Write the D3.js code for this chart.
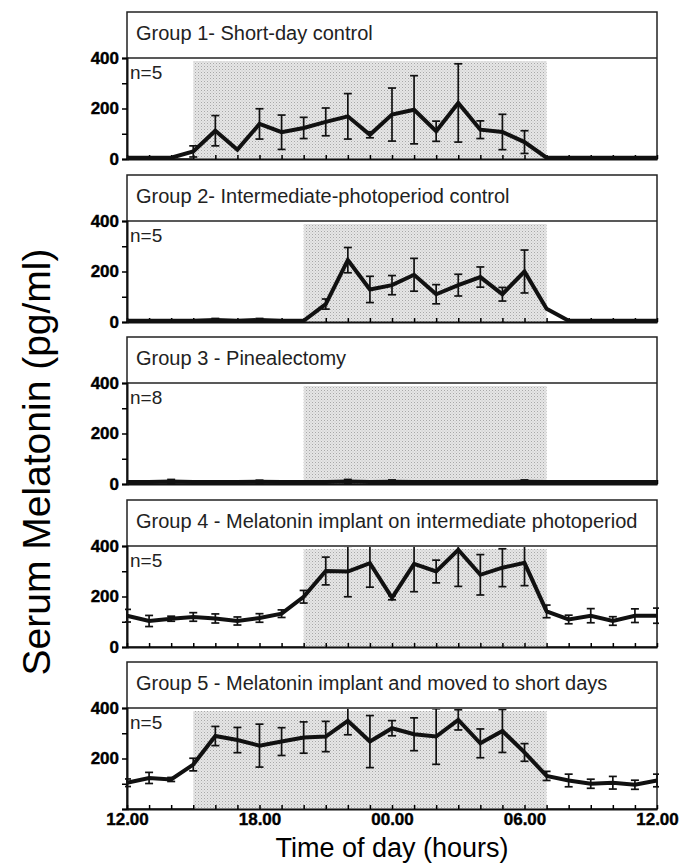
<!DOCTYPE html>
<html>
<head>
<meta charset="utf-8">
<script src="https://cdn.jsdelivr.net/npm/d3@7"></script>
<style>
  body { margin: 0; background: #fff; }
  svg { display: block; }
  text { font-family: "Liberation Sans", Arial, Helvetica, sans-serif; }
</style>
</head>
<body>
<svg id="chart"></svg>
<script>
// hours after 12.00 noon, one sample each hour
const hours = [0, 1, 2, 3, 4, 5, 6, 7, 8, 9, 10, 11, 12, 13, 14, 15, 16, 17, 18, 19, 20, 21, 22, 23, 24];
const hourTicks = [0, 6, 12, 18, 24];
const hourLabels = ["12.00", "18.00", "00.00", "06.00", "12.00"];

const groupTitles = [
    "Group 1- Short-day control",
    "Group 2- Intermediate-photoperiod control",
    "Group 3 - Pinealectomy",
    "Group 4 - Melatonin implant on intermediate photoperiod",
    "Group 5 - Melatonin implant and moved to short days"
];
const groupN = ["n=5", "n=5", "n=8", "n=5", "n=5"];
// dark phase, hours after noon
const darkStart = [3, 8, 8, 8, 3];
const darkEnd = [19, 19, 19, 19, 19];

const mean1 = [5, 5, 5, 30, 112, 37, 139, 106, 123, 147, 169, 96, 176, 195, 110, 222, 116, 107, 67, 5, 5, 5, 5, 5, 5];
const sem1 = [0, 0, 0, 22, 60, 0, 60, 68, 42, 55, 90, 12, 105, 135, 40, 155, 35, 70, 45, 0, 0, 0, 0, 0, 0];
const mean2 = [5, 5, 5, 5, 8, 5, 8, 5, 5, 71, 245, 129, 146, 187, 110, 146, 178, 110, 200, 52, 5, 5, 5, 5, 5];
const sem2 = [0, 0, 0, 0, 6, 0, 6, 0, 0, 20, 50, 52, 38, 65, 38, 43, 40, 27, 85, 0, 0, 0, 0, 0, 0];
const mean3 = [8, 8, 10, 8, 8, 8, 9, 8, 8, 8, 10, 8, 9, 8, 8, 8, 8, 8, 9, 8, 8, 8, 8, 8, 8];
const sem3 = [0, 0, 8, 0, 0, 0, 6, 0, 0, 0, 8, 0, 7, 0, 0, 0, 0, 0, 7, 0, 0, 0, 0, 0, 0];
const mean4 = [124, 103, 112, 119, 113, 103, 115, 132, 199, 301, 299, 332, 195, 329, 299, 385, 286, 314, 333, 141, 109, 124, 103, 124, 124];
const sem4 = [25, 22, 10, 17, 18, 16, 17, 15, 25, 55, 100, 95, 8, 110, 45, 145, 80, 75, 90, 25, 17, 28, 17, 27, 30];
const mean5 = [104, 123, 117, 176, 289, 273, 251, 267, 283, 287, 349, 267, 320, 296, 287, 353, 260, 309, 224, 131, 113, 100, 104, 96, 113];
const sem5 = [15, 22, 8, 25, 38, 50, 85, 55, 62, 60, 55, 103, 30, 65, 110, 40, 57, 85, 35, 18, 25, 18, 25, 18, 25];

const means = [mean1, mean2, mean3, mean4, mean5];
const sems = [sem1, sem2, sem3, sem4, sem5];

let width = 680;
let height = 866;

let svg = d3.select("#chart")
    .attr("width", width)
    .attr("height", height);

// stippled grey for the dark phase
let defs = svg.append("defs");
let pat = defs.append("pattern")
    .attr("id", "stipple")
    .attr("patternUnits", "userSpaceOnUse")
    .attr("width", 3)
    .attr("height", 3);
pat.append("rect").attr("width", 3).attr("height", 3).attr("fill", "#e6e6e6");
pat.append("rect").attr("x", 0).attr("y", 0).attr("width", 1).attr("height", 1).attr("fill", "#a8a8a8");
pat.append("rect").attr("x", 1.5).attr("y", 1.5).attr("width", 1).attr("height", 1).attr("fill", "#c4c4c4");

let left = 127;
let right = 657;
let panelTop = [12, 175, 337, 500, 662];
let titleH = 46;
let plotH = 101;

let xScale = d3.scaleLinear().domain([0, 24]).range([left, right]);

means.forEach((series, idx) => {
    let top = panelTop[idx];
    let sep = top + titleH;
    let bottom = sep + plotH;

    let yScale = d3.scaleLinear().domain([0, 400]).range([bottom, sep]);

    let g = svg.append("g");

    // title box
    g.append("rect")
        .attr("x", left).attr("y", top)
        .attr("width", right - left).attr("height", bottom - top)
        .attr("fill", "none").attr("stroke", "#222").attr("stroke-width", 1.5);
    g.append("line")
        .attr("x1", left).attr("x2", right)
        .attr("y1", sep).attr("y2", sep)
        .attr("stroke", "#222").attr("stroke-width", 1.5);

    g.append("text")
        .attr("x", left + 9).attr("y", top + 28)
        .attr("font-size", 20)
        .attr("fill", "#222")
        .text(groupTitles[idx]);

    // dark phase
    g.append("rect")
        .attr("x", xScale(darkStart[idx]))
        .attr("y", sep + 3)
        .attr("width", xScale(darkEnd[idx]) - xScale(darkStart[idx]))
        .attr("height", bottom - sep - 3)
        .attr("fill", "url(#stipple)");

    g.append("text")
        .attr("x", left + 3).attr("y", sep + 21)
        .attr("font-size", 19)
        .attr("fill", "#222")
        .text(groupN[idx]);

    // axes
    let yAxis = d3.axisLeft(yScale)
        .tickValues([0, 100, 200, 300, 400])
        .tickSize(5)
        .tickPadding(3)
        .tickFormat(d => (d % 200 === 0 && !(idx === 4 && d === 0)) ? d : "");
    let yg = g.append("g")
        .attr("transform", "translate(" + left + ",0)")
        .call(yAxis);
    yg.select(".domain").attr("stroke-width", 2).attr("stroke", "#111");
    yg.selectAll(".tick line").attr("stroke-width", 1.5);
    yg.selectAll(".tick text")
        .attr("font-size", 17)
        .attr("font-weight", "bold")
        .attr("fill", "#000")
        .attr("stroke", "#000")
        .attr("stroke-width", 0.4)
        .attr("font-family", "'Liberation Sans', Arial, sans-serif");

    let xAxis = d3.axisBottom(xScale)
        .tickValues(hours)
        .tickSizeInner(-4)
        .tickSizeOuter(0)
        .tickFormat("");
    let xg = g.append("g")
        .attr("transform", "translate(0," + bottom + ")")
        .call(xAxis);
    xg.select(".domain").attr("stroke-width", 2).attr("stroke", "#111");
    xg.selectAll(".tick line").attr("stroke-width", 1.5);

    // data, clipped to the plot box
    let clipId = "clip" + idx;
    defs.append("clipPath").attr("id", clipId)
        .append("rect")
        .attr("x", left - 2).attr("y", sep + 1)
        .attr("width", right - left + 4).attr("height", plotH + 2);

    let dg = g.append("g").attr("clip-path", "url(#" + clipId + ")");

    let pts = hours.map((h, i) => ({ h: h, m: series[i], s: sems[idx][i] }));

    let bars = pts.filter(d => d.s > 0);
    dg.selectAll(".eb")
        .data(bars)
        .enter().append("line")
        .attr("x1", d => xScale(d.h)).attr("x2", d => xScale(d.h))
        .attr("y1", d => yScale(d.m - d.s)).attr("y2", d => yScale(d.m + d.s))
        .attr("stroke", "#111").attr("stroke-width", 1.7);
    [-1, 1].forEach(sign => {
        dg.selectAll(".cap" + sign)
            .data(bars)
            .enter().append("line")
            .attr("x1", d => xScale(d.h) - 4).attr("x2", d => xScale(d.h) + 4)
            .attr("y1", d => yScale(d.m + sign * d.s)).attr("y2", d => yScale(d.m + sign * d.s))
            .attr("stroke", "#111").attr("stroke-width", 1.7);
    });

    dg.append("path")
        .datum(pts)
        .attr("fill", "none")
        .attr("stroke", "#111")
        .attr("stroke-width", 4)
        .attr("stroke-linejoin", "miter")
        .attr("d", d3.line()
            .x(d => xScale(d.h))
            .y(d => yScale(d.m)));

    if (idx === 4) {
        let lg = g.append("g")
            .attr("transform", "translate(0," + bottom + ")")
            .call(d3.axisBottom(xScale)
                .tickValues(hourTicks)
                .tickSize(0)
                .tickPadding(4)
                .tickFormat((d, i) => hourLabels[i]));
        lg.select(".domain").remove();
        lg.selectAll(".tick text")
            .attr("font-size", 17)
            .attr("font-weight", "bold")
            .attr("fill", "#000")
            .attr("stroke", "#000")
            .attr("stroke-width", 0.4)
            .attr("font-family", "'Liberation Sans', Arial, sans-serif");
    }
});

// axis titles
svg.append("text")
    .attr("transform", "translate(50,462) rotate(-90)")
    .attr("text-anchor", "middle")
    .attr("font-size", 39)
    .attr("fill", "#000")
    .text("Serum Melatonin (pg/ml)");

svg.append("text")
    .attr("x", 392).attr("y", 857)
    .attr("text-anchor", "middle")
    .attr("font-size", 27)
    .attr("fill", "#000")
    .text("Time of day (hours)");
</script>
</body>
</html>
